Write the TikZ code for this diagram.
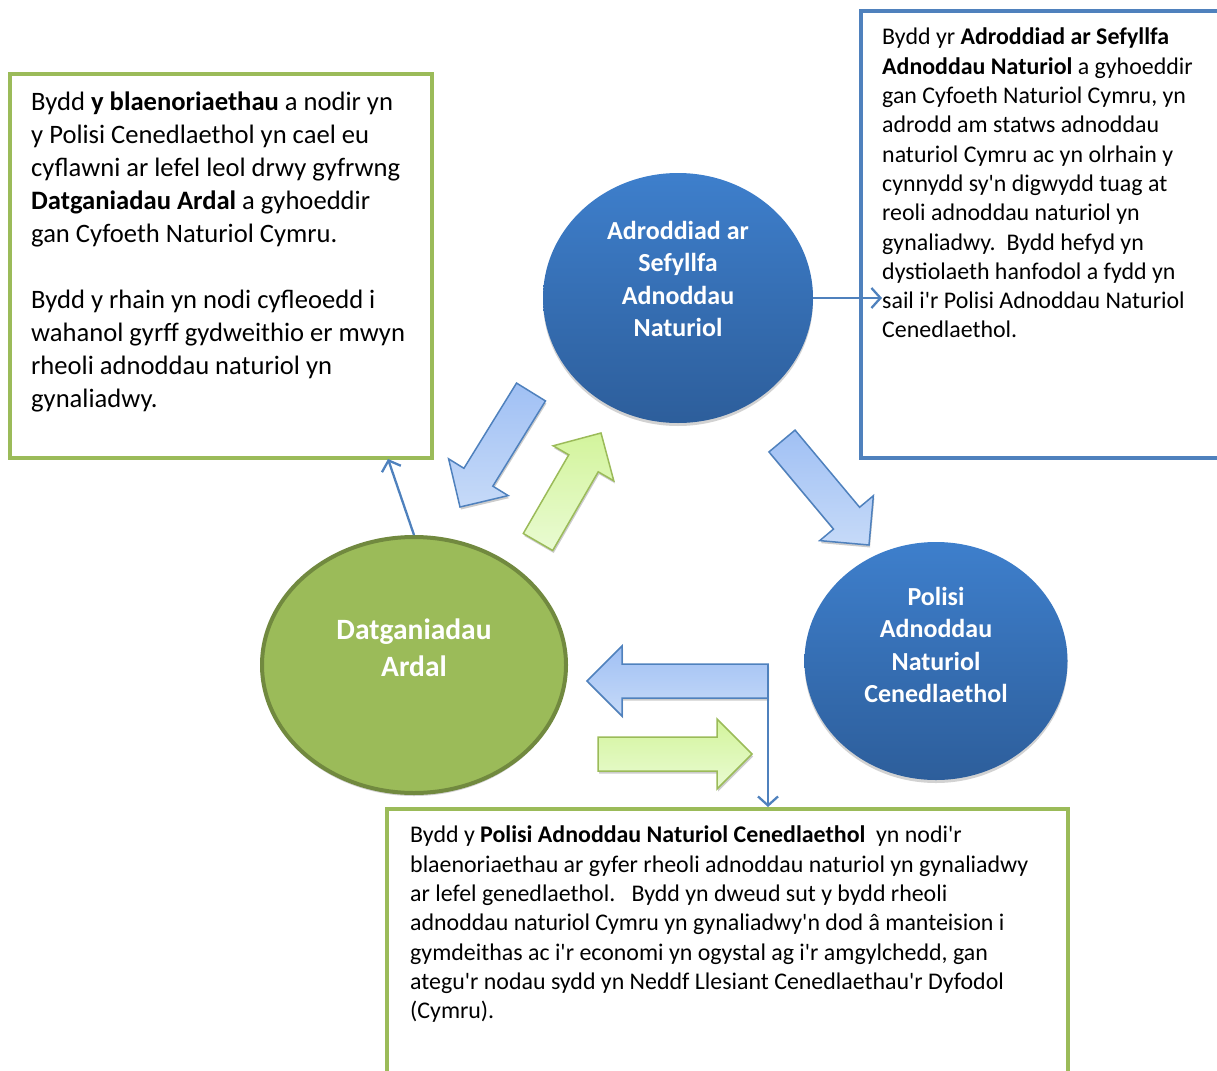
\documentclass[tikz,border=0pt]{standalone}
\usepackage{fontspec}
\setmainfont{Carlito}[Ligatures=TeXOff]
\usetikzlibrary{calc,shapes.geometric,shadows,arrows.meta}
\definecolor{boxgreen}{HTML}{9BBB59}
\definecolor{boxblue}{HTML}{4F81BD}
\definecolor{darkgreen}{HTML}{71893F}
\definecolor{circtop}{HTML}{3E7FCC}
\definecolor{circbot}{HTML}{2D5E9B}
\definecolor{arrblueA}{HTML}{A0C0F4}
\definecolor{arrblueB}{HTML}{C6DAF8}
\definecolor{arrgreenA}{HTML}{D3F49C}
\definecolor{arrgreenB}{HTML}{E9FBD2}

% big block arrow: style, tail, tip
\newcommand{\blockarrow}[3]{%
  \coordinate (ha) at ($(#3)!35pt!(#2)$);
  \draw[#1] ($(#2)!17pt!90:(#3)$) -- ($(ha)!17pt!-90:(#2)$) -- ($(ha)!35pt!-90:(#2)$)
    -- (#3) -- ($(ha)!35pt!90:(#2)$) -- ($(ha)!17pt!90:(#2)$) -- ($(#2)!17pt!-90:(#3)$) -- cycle;}

\begin{document}
\begin{tikzpicture}[x=1pt,y=-1pt,
    bluearr/.style={draw=boxblue,line width=1.5pt,top color=arrblueA,bottom color=arrblueB,
      drop shadow={shadow xshift=1pt,shadow yshift=-2.5pt,fill=black!40}},
    greenarr/.style={draw=boxgreen,line width=1.5pt,top color=arrgreenA,bottom color=arrgreenB,
      drop shadow={shadow xshift=1pt,shadow yshift=-2.5pt,fill=black!40}},
    conn/.style={draw=boxblue,line width=2.3pt,-{Straight Barb[length=9pt,width=20pt,line width=2.3pt]}}]
\useasboundingbox (0,0) rectangle (1217,1070);
\clip (0,0) rectangle (1217,1070);

\begin{scope}[every node/.style={draw,line width=4pt,inner sep=0,anchor=north west}]
    \node (leftbox)[boxgreen,minimum width=422,minimum height=384] at (8,72) {};
    \node (rightbox)[boxblue,minimum width=400,minimum height=447] at (859,9) {};
    \node (botbox)[boxgreen,minimum width=681,minimum height=300] at (385,807) {};
\end{scope}

\begin{scope}[every node/.style={ellipse,inner sep=0,drop shadow={shadow xshift=0pt,shadow yshift=-3pt,fill=black!35}}]
    \node (adr)[top color=circtop,bottom color=circbot,minimum width=270,minimum height=250] at (678,298) {};
    \node (pol)[top color=circtop,bottom color=circbot,minimum width=263,minimum height=238] at (936,661) {};
    \node (dat)[fill=boxgreen,draw=darkgreen,line width=4pt,minimum width=304,minimum height=256,drop shadow={opacity=0}] at (414,665) {};
\end{scope}

\begin{scope}[every node/.style={text=white,align=center,font=\fontsize{26}{32.5}\selectfont\bfseries}]
    \node (adrtxt) at ([yshift=19pt]adr.center) {Adroddiad ar\\Sefyllfa\\Adnoddau\\Naturiol};
    \node (poltxt) at ([yshift=16pt]pol.center) {Polisi\\Adnoddau\\Naturiol\\Cenedlaethol};
    \node (dattxt)[font=\fontsize{29.5}{37}\selectfont\bfseries] at ([yshift=17pt]dat.center) {Datganiadau\\Ardal};
\end{scope}

\begin{scope}[every node/.style={align=left,inner sep=0,anchor=north west}]
    \node (lefttxt)[font=\fontsize{26.6}{33}\selectfont] at (31,92) {Bydd \textbf{y blaenoriaethau} a nodir yn\\
      y Polisi Cenedlaethol yn cael eu\\
      cyflawni ar lefel leol drwy gyfrwng\\
      \textbf{Datganiadau Ardal} a gyhoeddir\\
      gan Cyfoeth Naturiol Cymru.\\[33pt]
      Bydd y rhain yn nodi cyfleoedd i\\
      wahanol gyrff gydweithio er mwyn\\
      rheoli adnoddau naturiol yn\\
      gynaliadwy.};
    \node (righttxt)[font=\fontsize{23.9}{29.3}\selectfont] at (882,28) {Bydd yr \textbf{Adroddiad ar Sefyllfa}\\
      \textbf{Adnoddau Naturiol} a gyhoeddir\\
      gan Cyfoeth Naturiol Cymru, yn\\
      adrodd am statws adnoddau\\
      naturiol Cymru ac yn olrhain y\\
      cynnydd sy'n digwydd tuag at\\
      reoli adnoddau naturiol yn\\
      gynaliadwy.~~Bydd hefyd yn\\
      dystiolaeth hanfodol a fydd yn\\
      sail i'r Polisi Adnoddau Naturiol\\
      Cenedlaethol.};
    \node (bottxt)[font=\fontsize{23.9}{29.3}\selectfont] at (410,826) {Bydd y \textbf{Polisi Adnoddau Naturiol Cenedlaethol}~~yn nodi'r\\
      blaenoriaethau ar gyfer rheoli adnoddau naturiol yn gynaliadwy\\
      ar lefel genedlaethol.~~~Bydd yn dweud sut y bydd rheoli\\
      adnoddau naturiol Cymru yn gynaliadwy'n dod â manteision i\\
      gymdeithas ac i'r economi yn ogystal ag i'r amgylchedd, gan\\
      ategu'r nodau sydd yn Neddf Llesiant Cenedlaethau'r Dyfodol\\
      (Cymru).};
\end{scope}

% block arrows
\coordinate (a1t) at (531,392);  \coordinate (a1e) at (460,507);
\coordinate (a2t) at (538,542);  \coordinate (a2e) at (601,433);
\coordinate (a3t) at (782,441);  \coordinate (a3e) at (869,545);
\coordinate (a4t) at (768,681);  \coordinate (a4e) at (587,681);
\coordinate (a5t) at (598,754);  \coordinate (a5e) at (752,754);
\blockarrow{bluearr}{a1t}{a1e}
\blockarrow{greenarr}{a2t}{a2e}
\blockarrow{bluearr}{a3t}{a3e}
\blockarrow{bluearr}{a4t}{a4e}
\blockarrow{greenarr}{a5t}{a5e}

% thin connectors
\coordinate (lb) at (388,459);
\draw[conn] (dat.north) -- (lb);
\draw[conn] (adr.east) -- (adr.east -| righttxt.west);
\draw[conn] ([yshift=17pt]a4t) -- (a4t |- botbox.north);
\end{tikzpicture}
\end{document}
